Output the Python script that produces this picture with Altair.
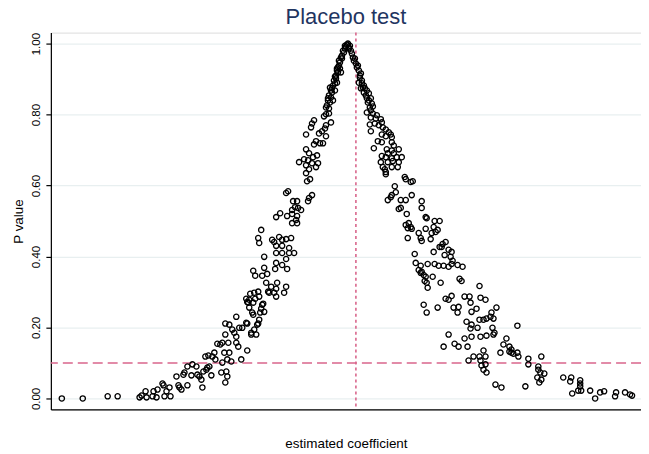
import altair as alt
import pandas as pd

# (estimated coefficient, p value)
left_tail = [(-0.295,0.000),(-0.274,0.000),(-0.249,0.006),(-0.239,0.006),
(-0.217,0.003),(-0.215,0.008),(-0.211,0.020),(-0.210,0.003),(-0.204,0.006),(-0.203,0.020),(-0.200,0.003),(-0.199,0.025),(-0.194,0.042),(-0.193,0.037),(-0.192,0.006),(-0.190,0.020),(-0.187,0.031),(-0.186,0.006),(-0.180,0.062),(-0.178,0.037),(-0.177,0.031),(-0.175,0.025),(-0.173,0.067),(-0.172,0.073),(-0.169,0.037),(-0.169,0.090),(-0.165,0.065),(-0.164,0.096),(-0.160,0.090),(-0.159,0.067),(-0.157,0.062),(-0.155,0.053),(-0.154,0.031),(-0.153,0.076),(-0.150,0.081),(-0.149,0.087),(-0.147,0.090),(-0.145,0.065),(-0.151,0.118),(-0.148,0.121),(-0.144,0.118),(-0.142,0.129),(-0.141,0.110),(-0.139,0.154),(-0.136,0.152),(-0.134,0.157),(-0.135,0.073),(-0.134,0.101),(-0.132,0.129),(-0.131,0.045),(-0.130,0.076),(-0.129,0.110),(-0.129,0.062),(-0.128,0.157),(-0.127,0.129),(-0.131,0.180),(-0.131,0.211),(-0.127,0.208),(-0.125,0.104),(-0.124,0.194),(-0.122,0.185),(-0.120,0.230),(-0.120,0.157),(-0.120,0.174),(-0.118,0.146),(-0.117,0.199),(-0.115,0.110),(-0.114,0.199),(-0.109,0.211),(-0.109,0.135),(-0.109,0.272),(-0.107,0.256),(-0.105,0.185),(-0.104,0.242),(-0.103,0.270),(-0.102,0.194),(-0.100,0.180),(-0.099,0.208),(-0.097,0.222),(-0.096,0.242),(-0.094,0.264),(-0.092,0.244),
(-0.093,0.267),(-0.095,0.253),(-0.103,0.236),(-0.110,0.213),(-0.098,0.211),(-0.105,0.180)]

left_mid = [(-0.110,0.281),(-0.108,0.270),(-0.102,0.298),(-0.097,0.287),(-0.088,0.301),(-0.080,0.287),(-0.080,0.309),(-0.085,0.315),(-0.090,0.326),(-0.079,0.326),(-0.070,0.315),(-0.072,0.298),(-0.094,0.346),(-0.089,0.351),(-0.092,0.368),(-0.081,0.365),(-0.069,0.365),(-0.080,0.382),(-0.074,0.376),(-0.070,0.393),(-0.092,0.399),(-0.074,0.410),(-0.067,0.410),(-0.062,0.410),(-0.080,0.410),(-0.067,0.424),(-0.074,0.430),(-0.080,0.430),(-0.082,0.441),(-0.074,0.447),(-0.070,0.449),(-0.065,0.452),(-0.084,0.447),(-0.077,0.455),(-0.095,0.475),(-0.098,0.452),(-0.097,0.438),
(-0.103,0.360),(-0.101,0.346),(-0.106,0.295),(-0.107,0.278),(-0.101,0.281),(-0.087,0.298),(-0.082,0.298),(-0.098,0.301)]

left_upper = [(-0.027,0.803),(-0.030,0.801),(-0.032,0.795),(-0.025,0.778),(-0.030,0.770),(-0.031,0.761),(-0.034,0.753),(-0.037,0.747),(-0.030,0.739),(-0.042,0.784),(-0.044,0.775),(-0.045,0.764),(-0.050,0.744),(-0.040,0.725),(-0.042,0.716),(-0.036,0.719),(-0.033,0.719),(-0.050,0.702),(-0.047,0.691),(-0.039,0.685),(-0.043,0.680),(-0.052,0.674),(-0.057,0.666),(-0.048,0.671),(-0.044,0.663),(-0.038,0.663),(-0.050,0.657),(-0.040,0.652),(-0.047,0.646),(-0.050,0.635),(-0.046,0.618),(-0.049,0.612),(-0.068,0.584),(-0.070,0.579),(-0.044,0.573),(-0.047,0.565),(-0.048,0.556),(-0.063,0.556),(-0.059,0.556),(-0.061,0.539),(-0.058,0.537),(-0.055,0.531),(-0.064,0.531),(-0.076,0.522),(-0.064,0.520),(-0.069,0.514),(-0.080,0.511),(-0.059,0.514),(-0.060,0.503),(-0.064,0.494),(-0.059,0.494)]

left_peak = [(-0.008,1.000),(-0.010,0.992),(-0.011,0.986),(-0.007,0.986),(-0.012,0.975),(-0.014,0.966),(-0.014,0.958),(-0.016,0.947),(-0.017,0.938),(-0.019,0.930),(-0.018,0.919),(-0.020,0.910),(-0.020,0.902),(-0.021,0.888),(-0.026,0.876),(-0.024,0.874),(-0.024,0.862),(-0.025,0.848),(-0.028,0.846),(-0.026,0.834),(-0.029,0.826),
(-0.013,0.980),(-0.015,0.961),(-0.017,0.952),(-0.018,0.933),(-0.019,0.924),(-0.021,0.907),(-0.022,0.896),(-0.023,0.882),(-0.025,0.868),(-0.027,0.854),(-0.028,0.840),(-0.030,0.820),(-0.009,0.997),(-0.011,0.994),(-0.006,0.994),(-0.007,0.989),
(-0.016,0.930),(-0.021,0.868),(-0.023,0.840),(-0.027,0.817),(-0.019,0.890),(-0.015,0.919)]

right_peak = [(-0.005,0.980),(-0.004,0.972),(-0.003,0.961),(-0.002,0.952),(0.000,0.944),(0.001,0.933),(0.003,0.924),(0.005,0.916),(0.004,0.904),(0.006,0.896),(0.006,0.888),(0.007,0.876),(0.009,0.874),(0.008,0.862),(0.010,0.854),(0.013,0.860),(0.011,0.846),(0.015,0.846),(0.012,0.834),(0.016,0.831),(0.014,0.820),(0.015,0.812),(0.005,0.874),(0.003,0.890),
(-0.001,0.958),(0.002,0.938),(0.004,0.910),(0.008,0.882),(0.011,0.868),(0.013,0.840),(0.017,0.823)]

right_upper = [(0.011,0.806),(0.017,0.803),(0.021,0.798),(0.015,0.792),(0.020,0.789),(0.025,0.787),(0.014,0.772),(0.019,0.775),(0.023,0.770),(0.026,0.778),(0.027,0.764),(0.030,0.758),(0.033,0.750),(0.015,0.753),(0.026,0.744),(0.035,0.744),(0.030,0.739),(0.036,0.736),(0.022,0.725),(0.026,0.722),(0.036,0.722),(0.018,0.705),(0.038,0.713),(0.031,0.702),(0.036,0.699),(0.043,0.702),(0.032,0.691),(0.038,0.691),(0.026,0.683),(0.030,0.680),(0.036,0.677),(0.041,0.680),(0.046,0.680),(0.025,0.666),(0.032,0.666),(0.037,0.669),(0.043,0.666),(0.027,0.652),(0.036,0.652),(0.042,0.652),(0.030,0.638),(0.030,0.632),(0.029,0.646),(0.049,0.624),(0.050,0.618),(0.055,0.610),(0.057,0.612),(0.039,0.598),(0.040,0.581),(0.036,0.573),(0.035,0.567),(0.032,0.559),(0.045,0.559),(0.050,0.559),(0.056,0.573),(0.066,0.556),(0.066,0.537),(0.043,0.534),(0.045,0.537),(0.051,0.520),(0.070,0.511),(0.071,0.508),(0.079,0.500),(0.084,0.500),(0.050,0.489),(0.053,0.494),(0.055,0.483),(0.056,0.478),(0.052,0.480),(0.078,0.483),(0.070,0.478),(0.063,0.466),(0.076,0.466),(0.080,0.469),(0.082,0.475),(0.065,0.452),(0.066,0.444),(0.075,0.449),(0.052,0.452),(0.090,0.441),(0.087,0.435),(0.086,0.427),(0.084,0.427),(0.093,0.419),(0.096,0.413),(0.078,0.413),(0.089,0.404),(0.059,0.407),(0.095,0.399),(0.097,0.388),(0.060,0.382),(0.065,0.374),(0.072,0.379),(0.079,0.379),(0.083,0.374),(0.088,0.374),(0.093,0.371),(0.096,0.379),(0.102,0.376),(0.107,0.371)]

right_mid = [(0.066,0.357),(0.068,0.348),(0.070,0.343),(0.069,0.331),(0.071,0.326),(0.072,0.312),(0.077,0.343),(0.085,0.326),(0.065,0.354),(0.063,0.362),(0.104,0.337),(0.106,0.331),(0.124,0.317),(0.068,0.264),(0.071,0.242),(0.082,0.256),(0.090,0.281),(0.093,0.278),(0.096,0.289),(0.098,0.256),(0.103,0.258),(0.102,0.242),(0.109,0.287),(0.114,0.287),(0.115,0.270),(0.116,0.244),(0.121,0.253),(0.125,0.284),(0.130,0.278),(0.141,0.256),(0.136,0.242),(0.135,0.230),(0.138,0.225),(0.131,0.225),(0.128,0.222),(0.124,0.222),(0.111,0.216),(0.116,0.208),(0.115,0.197),(0.122,0.199),(0.137,0.199),(0.139,0.185),(0.138,0.180),(0.131,0.177),(0.125,0.174),(0.116,0.174),(0.109,0.169),(0.093,0.180),(0.099,0.154),(0.103,0.146),(0.088,0.146),(0.112,0.146),(0.151,0.169),(0.148,0.152),(0.154,0.146),(0.156,0.138),(0.162,0.205),(0.145,0.129),(0.156,0.129),(0.162,0.129),(0.163,0.118),(0.128,0.135),(0.130,0.118),(0.124,0.118),(0.118,0.118),(0.113,0.107),(0.125,0.107),(0.126,0.093),(0.130,0.096),(0.128,0.081),(0.131,0.073),(0.140,0.039),(0.146,0.031),(0.170,0.034),(0.173,0.112)]

right_tail = [(0.154,0.132),(0.158,0.126),(0.173,0.096),(0.186,0.118),(0.183,0.090),(0.183,0.081),(0.185,0.073),(0.189,0.070),(0.182,0.059),(0.186,0.053),(0.184,0.045),(0.208,0.059),(0.216,0.059),(0.215,0.048),(0.225,0.051),(0.225,0.042),(0.225,0.034),(0.223,0.022),(0.226,0.022),(0.217,0.014),(0.235,0.022),(0.240,0.000),(0.245,0.017),(0.249,0.020),(0.261,0.017),(0.260,0.006),(0.270,0.017),(0.275,0.011),(0.277,0.008)]

y_ticks = [0.0, 0.2, 0.4, 0.6, 0.8, 1.0]
true_effect = [0.0]
p_threshold = [0.1]

points = left_tail + left_mid + left_upper + left_peak + right_peak + right_upper + right_mid + right_tail
df = pd.DataFrame(points, columns=["coef", "pval"])

FONT = "Liberation Sans"
LINE = "#d9668c"
xscale = alt.Scale(domain=[-0.306, 0.286], nice=False, zero=False)
yscale = alt.Scale(domain=[-0.031, 1.031], nice=False, zero=False)

xaxis = alt.Axis(labels=False, ticks=False, grid=False, domainColor="black", domainWidth=1.2,
                 title="estimated coefficient", titleFont=FONT, titleFontSize=13.5,
                 titleFontWeight="normal", titleColor="black", titlePadding=27)
yaxis = alt.Axis(values=y_ticks, format=".2f", labelAngle=270, labelAlign="center", labelBaseline="bottom",
                 labelFont=FONT, labelFontSize=11.5, labelColor="black", labelPadding=4,
                 tickSize=5, tickColor="black", tickWidth=1.2, domainColor="black", domainWidth=1.2,
                 grid=True, gridColor="#e8eff0", gridWidth=1.3,
                 title="P value", titleFont=FONT, titleFontSize=13.5, titleFontWeight="normal",
                 titleColor="black", titlePadding=5)

scatter = alt.Chart(df).mark_point(shape="circle", filled=False, color="black", size=28,
                                   strokeWidth=1.3, opacity=1).encode(
    x=alt.X("coef:Q", scale=xscale, axis=xaxis),
    y=alt.Y("pval:Q", scale=yscale, axis=yaxis),
)

vline = alt.Chart(pd.DataFrame({"coef": true_effect})).mark_rule(
    color=LINE, strokeDash=[3, 3], strokeWidth=1.6).encode(x=alt.X("coef:Q", scale=xscale))
hline = alt.Chart(pd.DataFrame({"pval": p_threshold})).mark_rule(
    color=LINE, strokeDash=[10, 5], strokeWidth=1.6).encode(y=alt.Y("pval:Q", scale=yscale))

chart = alt.layer(vline, hline, scatter).properties(
    width=592, height=378,
    title=alt.TitleParams("Placebo test", font=FONT, fontSize=22, fontWeight="normal",
                          color="#1f3561", anchor="middle", baseline="alphabetic", offset=-14),
    padding={"left": 43, "top": 24, "right": 0, "bottom": 40},
    autosize=alt.AutoSizeParams(type="none"),
).configure_view(stroke=None).configure(background="white")

chart.save("out.html", embed_options={"renderer": "svg", "actions": False})
